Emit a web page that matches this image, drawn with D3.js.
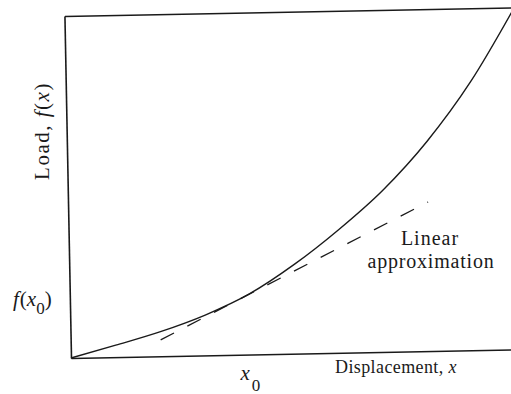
<!DOCTYPE html>
<html>
<head>
<meta charset="utf-8">
<script src="https://cdn.jsdelivr.net/npm/d3@7"></script>
<style>
  html, body { margin: 0; padding: 0; background: #fff; }
  svg { display: block; }
</style>
</head>
<body>
<svg id="chart" width="511" height="394"></svg>
<script>
// Load–displacement curve (arbitrary units)
const displacement = [0, 1, 2, 3, 4, 5, 6, 7, 8, 9, 10];
const load = [0, 0.35, 0.72, 1.18, 1.78, 2.61, 3.60, 4.73, 6.13, 7.86, 10.0];

// Tangent (linear approximation) at x0
const x0 = 3.9;
const fx0 = 1.71;
const tangentX = [2.0, 8.0];
const tangentY = [0.48, 4.36];

const xDomain = [0, 10];
const yDomain = [0, 10];

const serif = "'Liberation Serif', 'Times New Roman', 'DejaVu Serif', serif";
const ink = "#1a1a1a";

const svg = d3.select("#chart");
const origin = [71, 358];

const x = d3.scaleLinear().domain(xDomain).range([origin[0], origin[0] + 450]);
const y = d3.scaleLinear().domain(yDomain).range([origin[1], 16]);

// the printed figure sits slightly askew on the page
const plot = svg.append("g")
  .attr("transform", `rotate(-1.1, ${origin[0]}, ${origin[1]})`);

const axisStyle = g => g.select(".domain")
  .attr("stroke", ink).attr("stroke-width", 1.6);

// bottom axis, left axis and top border, without ticks
plot.append("g")
  .attr("transform", `translate(0,${y(0)})`)
  .call(d3.axisBottom(x).tickValues([]).tickSizeOuter(0))
  .call(axisStyle);
plot.append("g")
  .attr("transform", `translate(${x(0)},0)`)
  .call(d3.axisLeft(y).tickValues([]).tickSizeOuter(0))
  .call(axisStyle);
plot.append("g")
  .attr("transform", `translate(0,${y(yDomain[1])})`)
  .call(d3.axisTop(x).tickValues([]).tickSizeOuter(0))
  .call(axisStyle);

// load curve
const curvePts = displacement.map((d, i) => [d, load[i]]);
plot.append("path")
  .datum(curvePts)
  .attr("fill", "none")
  .attr("stroke", ink)
  .attr("stroke-width", 1.4)
  .attr("d", d3.line().x(d => x(d[0])).y(d => y(d[1])).curve(d3.curveMonotoneX));

// dashed linear approximation
const tanPts = tangentX.map((d, i) => [d, tangentY[i]]);
plot.append("path")
  .datum(tanPts)
  .attr("fill", "none")
  .attr("stroke", ink)
  .attr("stroke-width", 1.3)
  .attr("stroke-dasharray", "15,15")
  .attr("d", d3.line().x(d => x(d[0])).y(d => y(d[1])));

const label = (px, py, size) => svg.append("text")
  .attr("x", px).attr("y", py)
  .attr("font-family", serif)
  .attr("font-size", size)
  .attr("fill", ink);

// axis titles
const yTitle = svg.append("text")
  .attr("transform", "translate(49,131) rotate(-90)")
  .attr("text-anchor", "middle")
  .attr("font-family", serif)
  .attr("font-size", 21)
  .attr("letter-spacing", 1.5)
  .attr("fill", ink);
yTitle.append("tspan").text("Load, ");
yTitle.append("tspan").attr("font-style", "italic").text("f");
yTitle.append("tspan").text("(");
yTitle.append("tspan").attr("font-style", "italic").text("x");
yTitle.append("tspan").text(")");

label(335, 373, 18)
  .attr("letter-spacing", 0.4)
  .call(t => {
    t.append("tspan").text("Displacement, ");
    t.append("tspan").attr("font-style", "italic").text("x");
  });

// f(x0) marker on the load axis
const fLabel = label(13, y(fx0) + 6, 21);
fLabel.append("tspan").attr("font-style", "italic").text("f");
fLabel.append("tspan").attr("dx", 1).text("(");
fLabel.append("tspan").attr("font-style", "italic").text("x");
fLabel.append("tspan").attr("font-size", 17).attr("dy", 8).text("0");
fLabel.append("tspan").attr("dy", -8).text(")");

// x0 marker under the displacement axis
const xLabel = label(x(x0) - 6, 380, 21);
xLabel.append("tspan").attr("font-style", "italic").text("x");
xLabel.append("tspan").attr("font-size", 17).attr("dx", 2).attr("dy", 11).text("0");

// annotation for the dashed line
label(430, 245, 20)
  .attr("text-anchor", "middle")
  .attr("letter-spacing", 1)
  .text("Linear");
label(431, 268, 20)
  .attr("text-anchor", "middle")
  .attr("letter-spacing", 0.8)
  .text("approximation");
</script>
</body>
</html>
